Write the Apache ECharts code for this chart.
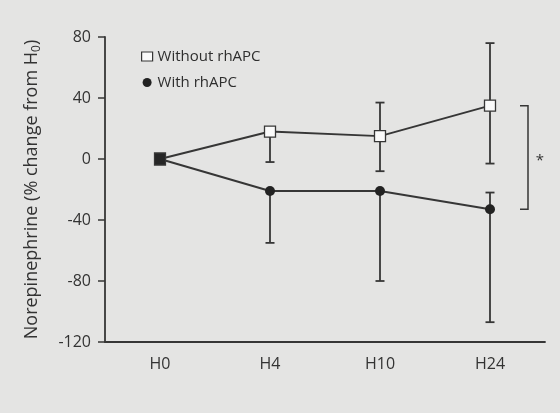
<!DOCTYPE html>
<html>
<head>
<meta charset="utf-8">
<script src="https://cdn.jsdelivr.net/npm/echarts@6/dist/echarts.min.js"></script>
<style>
  html, body { margin: 0; padding: 0; background: #e4e4e3; }
  #chart { width: 560px; height: 413px; }
</style>
</head>
<body>
<div id="chart"></div>
<script>
let hours = ['H0', 'H4', 'H10', 'H24'];

// Without rhAPC (open squares)
let withoutMean = [0, 18, 15, 35];
let withoutHigh = [null, null, 37, 76];
let withoutLow = [null, -2, -8, -3];

// With rhAPC (filled circles)
let withMean = [0, -21, -21, -33];
let withHigh = [null, null, null, -22];
let withLow = [null, -55, -80, -107];

let yTicks = [-120, -80, -40, 0, 40, 80];

let ink = '#363636';
let fontName = 'Open Sans';

let chart = echarts.init(document.getElementById('chart'));

function errorData(mean, high, low) {
  return mean.map((m, i) => [i, m, high[i] == null ? NaN : high[i], low[i] == null ? NaN : low[i]]);
}

function renderError(params, api) {
  let x = api.value(0);
  let m = api.value(1);
  let hi = api.value(2);
  let lo = api.value(3);
  let children = [];
  let cap = 4.5;
  [hi, lo].forEach(v => {
    if (isNaN(v)) return;
    let p0 = api.coord([x, m]);
    let p1 = api.coord([x, v]);
    children.push({
      type: 'line',
      shape: { x1: p0[0], y1: p0[1], x2: p1[0], y2: p1[1] },
      style: { stroke: ink, lineWidth: 1.8 }
    });
    children.push({
      type: 'line',
      shape: { x1: p1[0] - cap, y1: p1[1], x2: p1[0] + cap, y2: p1[1] },
      style: { stroke: ink, lineWidth: 1.8 }
    });
  });
  return { type: 'group', children: children };
}

let options = {
  backgroundColor: '#e4e4e3',
  animation: false,
  textStyle: { fontFamily: fontName },
  grid: { left: 105, right: 15, top: 37, bottom: 71 },
  legend: {
    orient: 'vertical',
    left: 136,
    top: 44,
    itemGap: 11,
    itemWidth: 11,
    itemHeight: 9,
    textStyle: { fontFamily: fontName, fontSize: 15, color: '#2e2e2e' },
    data: [
      { name: 'Without rhAPC', icon: 'rect', itemStyle: { color: '#fafafa', borderColor: ink, borderWidth: 1.2 } },
      { name: 'With rhAPC', icon: 'circle', itemStyle: { color: '#222' } }
    ]
  },
  xAxis: {
    type: 'category',
    data: hours,
    boundaryGap: true,
    axisLine: { onZero: false, lineStyle: { color: ink, width: 1.8 } },
    axisTick: { alignWithLabel: true, length: 6, lineStyle: { color: ink, width: 1.5 } },
    axisLabel: { color: '#333', fontSize: 16, margin: 14, fontFamily: fontName }
  },
  yAxis: {
    type: 'value',
    min: yTicks[0],
    max: yTicks[yTicks.length - 1],
    interval: 40,
    splitLine: { show: false },
    axisLine: { show: true, lineStyle: { color: ink, width: 1.8 } },
    axisTick: { show: true, length: 7, lineStyle: { color: ink, width: 1.5 } },
    axisLabel: { color: '#333', fontSize: 16, margin: 14, fontFamily: fontName },
    name: '{a|Norepinephrine (% change from H}{s|0}{a|)}',
    nameLocation: 'middle',
    nameRotate: 90,
    nameGap: 62,
    nameTextStyle: {
      rich: {
        a: { fontSize: 18, color: '#333', fontFamily: fontName },
        s: { fontSize: 12, color: '#333', fontFamily: fontName, verticalAlign: 'bottom', padding: [10, 0, 0, 0] }
      }
    }
  },
  series: [
    {
      name: 'errWithout',
      type: 'custom',
      renderItem: renderError,
      data: errorData(withoutMean, withoutHigh, withoutLow),
      z: 1
    },
    {
      name: 'errWith',
      type: 'custom',
      renderItem: renderError,
      data: errorData(withMean, withHigh, withLow),
      z: 1
    },
    {
      name: 'With rhAPC',
      type: 'line',
      data: withMean,
      symbol: 'circle',
      symbolSize: 10,
      lineStyle: { color: ink, width: 2 },
      itemStyle: { color: '#222' },
      z: 3
    },
    {
      name: 'Without rhAPC',
      type: 'line',
      data: withoutMean.map((v, i) => i === 0 ? { value: v, itemStyle: { color: '#262626' }, symbolSize: [11, 12] } : v),
      symbol: 'rect',
      symbolSize: 11,
      lineStyle: { color: ink, width: 2 },
      itemStyle: { color: '#fafafa', borderColor: ink, borderWidth: 1.3 },
      z: 4
    }
  ]
};

chart.setOption(options);

// significance bracket between the two H24 means
let yTop = chart.convertToPixel({ yAxisIndex: 0 }, withoutMean[3]);
let yBot = chart.convertToPixel({ yAxisIndex: 0 }, withMean[3]);
let bx = 528;
chart.setOption({
  graphic: [
    {
      type: 'polyline',
      shape: { points: [[bx - 8, yTop], [bx, yTop], [bx, yBot], [bx - 8, yBot]] },
      style: { stroke: ink, lineWidth: 1.5, fill: null }
    },
    {
      type: 'text',
      x: 540,
      y: (yTop + yBot) / 2 + 3,
      style: { text: '*', fontSize: 15, fill: '#333', align: 'center', verticalAlign: 'middle', fontFamily: fontName }
    }
  ]
});
</script>
</body>
</html>
